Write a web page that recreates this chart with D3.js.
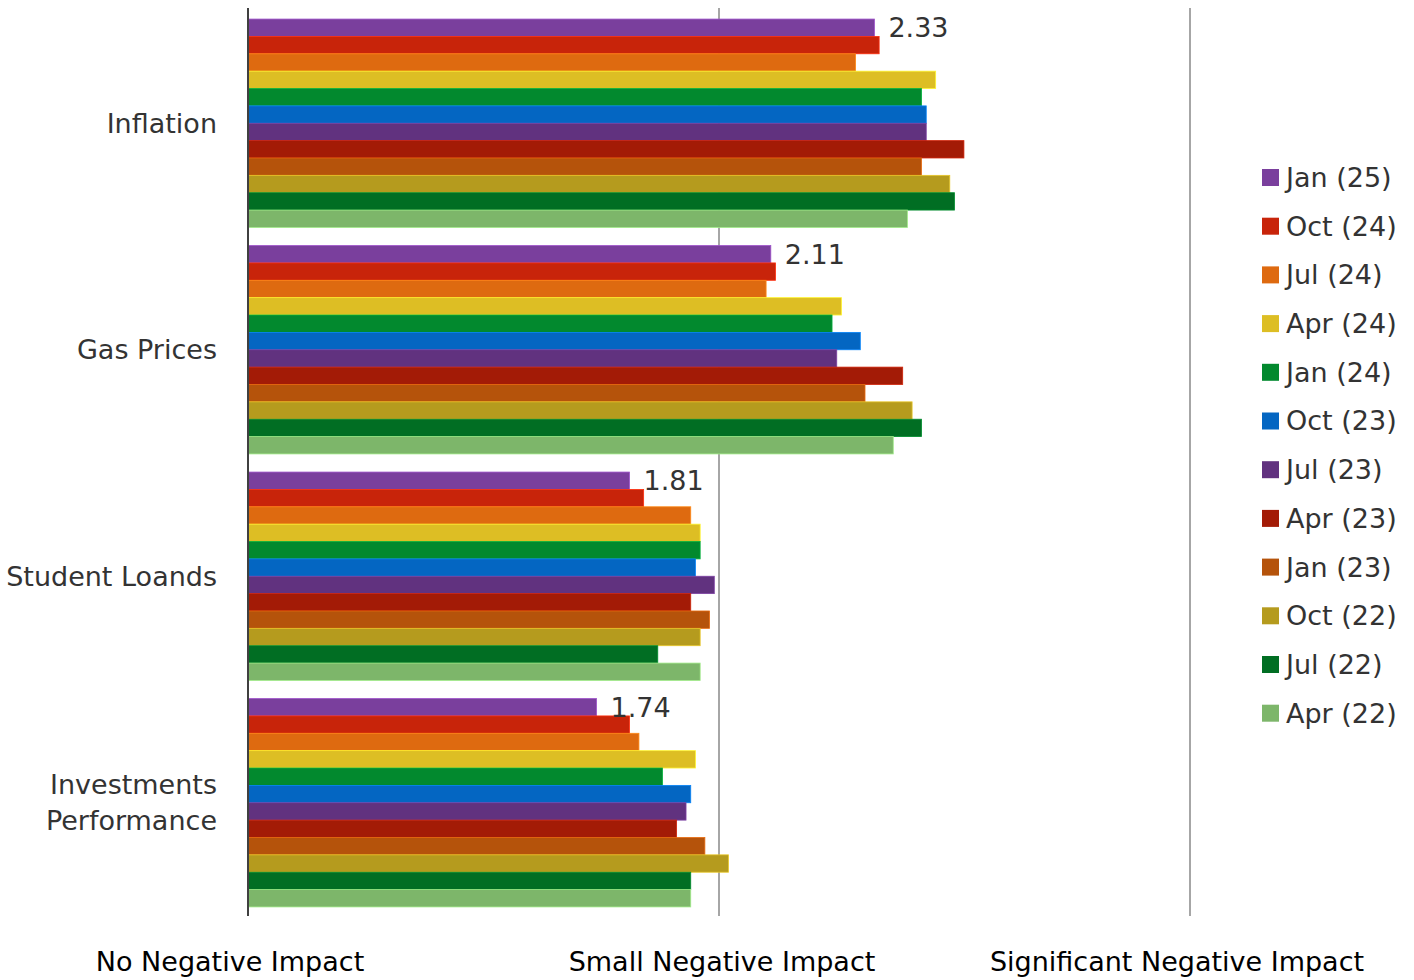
<!DOCTYPE html>
<html>
<head>
<meta charset="utf-8">
<script src="https://cdn.jsdelivr.net/npm/d3@7"></script>
<style>
  html, body { margin: 0; padding: 0; background: #fff; }
  svg { display: block; font-family: "DejaVu Sans", Verdana, sans-serif; }
</style>
</head>
<body>
<svg id="chart" width="1414" height="980"></svg>
<script>
const categories = ["Inflation", "Gas Prices", "Student Loands", "Investments Performance"];
const seriesNames = ["Jan (25)", "Oct (24)", "Jul (24)", "Apr (24)", "Jan (24)", "Oct (23)",
                     "Jul (23)", "Apr (23)", "Jan (23)", "Oct (22)", "Jul (22)", "Apr (22)"];
const seriesColors = ["#7A3F9D", "#C8240A", "#DE6A10", "#DDBE24", "#02892E", "#0466C2",
                      "#61327F", "#A31B06", "#B5530B", "#B59B1E", "#016E23", "#7DB66A"];
// values per series, in category order: Inflation, Gas Prices, Student Loands, Investments Performance
const valJan25 = [2.33, 2.11, 1.81, 1.74];
const valOct24 = [2.34, 2.12, 1.84, 1.81];
const valJul24 = [2.29, 2.10, 1.94, 1.83];
const valApr24 = [2.46, 2.26, 1.96, 1.95];
const valJan24 = [2.43, 2.24, 1.96, 1.88];
const valOct23 = [2.44, 2.30, 1.95, 1.94];
const valJul23 = [2.44, 2.25, 1.99, 1.93];
const valApr23 = [2.52, 2.39, 1.94, 1.91];
const valJan23 = [2.43, 2.31, 1.98, 1.97];
const valOct22 = [2.49, 2.41, 1.96, 2.02];
const valJul22 = [2.50, 2.43, 1.87, 1.94];
const valApr22 = [2.40, 2.37, 1.96, 1.94];
const seriesValues = [valJan25, valOct24, valJul24, valApr24, valJan24, valOct23,
                      valJul23, valApr23, valJan23, valOct22, valJul22, valApr22];
const tickValues = [1, 2, 3];
const tickLabels = ["No Negative Impact", "Small Negative Impact", "Significant Negative Impact"];
const labelledSeries = 0; // Jan (25) values are labelled

const svg = d3.select("#chart");
const x = d3.scaleLinear().domain([1, 3]).range([248, 1190]);
const y = d3.scaleBand().domain(categories).range([10, 916]).paddingInner(0.08).paddingOuter(0.04);
const ys = d3.scaleBand().domain(d3.range(seriesNames.length)).range([0, y.bandwidth()]);

// gridlines
svg.append("g").selectAll("line").data(tickValues.slice(1)).join("line")
  .attr("x1", d => x(d)).attr("x2", d => x(d))
  .attr("y1", 8).attr("y2", 916)
  .attr("stroke", "#A6A6A6").attr("stroke-width", 2);

// bars
const rows = [];
seriesValues.forEach((vals, si) => vals.forEach((v, ci) => rows.push({si, ci, v})));
svg.append("g").selectAll("rect").data(rows).join("rect")
  .attr("x", x(1))
  .attr("y", d => y(categories[d.ci]) + ys(d.si))
  .attr("width", d => x(d.v) - x(1))
  .attr("height", ys.bandwidth())
  .attr("fill", d => seriesColors[d.si])
  .attr("stroke", d => d3.color(seriesColors[d.si]).brighter(0.7))
  .attr("stroke-width", 0.8);

// left axis line
svg.append("line")
  .attr("x1", x(1)).attr("x2", x(1)).attr("y1", 8).attr("y2", 916)
  .attr("stroke", "#404040").attr("stroke-width", 2);

// data labels
svg.append("g").selectAll("text").data(seriesValues[labelledSeries]).join("text")
  .attr("x", d => x(d) + 14)
  .attr("y", (d, i) => y(categories[i]) + ys(labelledSeries) + ys.bandwidth() / 2)
  .attr("dy", "0.35em")
  .attr("font-size", 27).attr("fill", "#333")
  .text(d => d.toFixed(2));

// category labels
const catG = svg.append("g").selectAll("text").data(categories).join("text")
  .attr("text-anchor", "end")
  .attr("x", 217)
  .attr("y", d => y(d) + y.bandwidth() / 2)
  .attr("font-size", 27).attr("fill", "#333");
catG.each(function(d) {
  const words = d === "Investments Performance" ? ["Investments", "Performance"] : [d];
  const t = d3.select(this);
  words.forEach((w, i) => {
    t.append("tspan").attr("x", 217)
      .attr("dy", i === 0 ? (0.35 - (words.length - 1) * 0.67) + "em" : "1.34em")
      .text(w);
  });
});

// bottom tick labels
svg.append("g").selectAll("text").data(tickValues).join("text")
  .attr("x", d => x(d))
  .attr("dx", (d, i) => [-18, 3, -13][i])
  .attr("y", 962).attr("dy", "0.35em")
  .attr("text-anchor", "middle")
  .attr("font-size", 27).attr("fill", "#000")
  .text((d, i) => tickLabels[i]);

// legend
const lg = svg.append("g").selectAll("g").data(seriesNames).join("g")
  .attr("transform", (d, i) => `translate(1262, ${177.5 + i * 48.7})`);
lg.append("rect").attr("x", 0).attr("y", -8.5).attr("width", 17).attr("height", 17)
  .attr("fill", (d, i) => seriesColors[i]);
lg.append("text").attr("x", 24).attr("dy", "0.35em")
  .attr("font-size", 27).attr("fill", "#333").text(d => d);
</script>
</body>
</html>
